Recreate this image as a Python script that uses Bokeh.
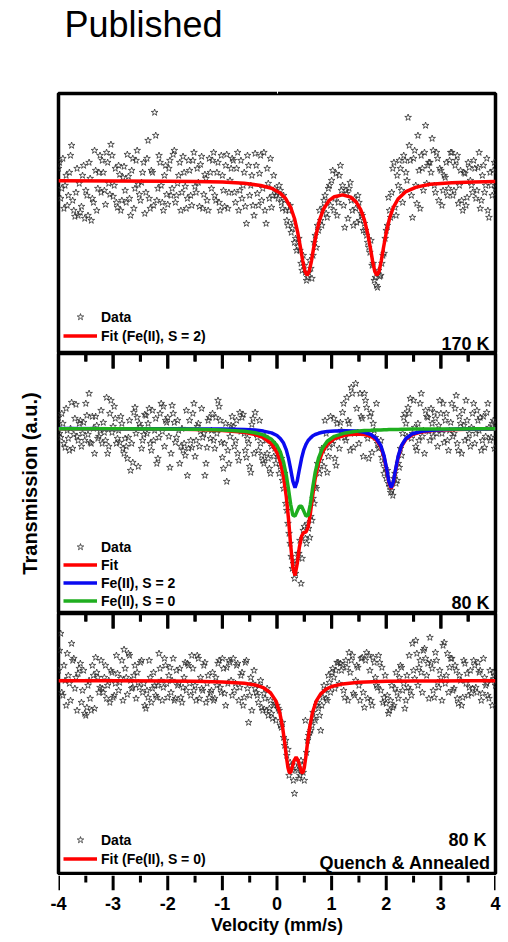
import numpy as np
from bokeh.plotting import figure
from bokeh.models import Range1d, LinearAxis, FixedTicker, Legend, LegendItem, Label
from bokeh.layouts import column
from bokeh.embed import file_html
from bokeh.resources import INLINE

FONT = "Liberation Sans"

# ---------------- data ----------------
# velocity channels (even and odd halves of the folded spectrum)
VELOCITY = np.round(np.linspace(-4.0, 4.0, 201), 2)
VELOCITY_B = np.round(np.linspace(-3.98, 3.98, 200), 2)

MAJOR_TICKS = [-4, -3, -2, -1, 0, 1, 2, 3, 4]
MINOR_TICKS = [-3.5, -2.5, -1.5, -0.5, 0.5, 1.5, 2.5, 3.5]
TICK_LABELS = ["-4", "-3", "-2", "-1", "0", "1", "2", "3", "4"]

DATA_170K = [
    100.60, 99.10, 101.10, 99.75, 98.75, 100.40, 101.75, 98.50, 99.40, 98.25,
    98.40, 100.25, 98.10, 99.25, 100.90, 98.00, 98.90, 100.50, 99.60, 101.25,
    101.00, 99.50, 101.40, 99.85, 101.80, 99.20, 100.60, 98.65, 100.30, 99.00,
    100.70, 98.90, 100.20, 98.25, 101.10, 99.60, 101.50, 99.30, 99.90, 100.90,
    99.40, 102.00, 98.60, 100.40, 103.40, 99.00, 101.25, 99.75, 98.50, 100.75,
    98.80, 101.00, 99.60, 101.50, 99.25, 100.25, 98.50, 101.20, 99.70, 99.10,
    100.50, 98.75, 101.40, 99.40, 99.90, 100.80, 98.60, 100.30, 99.00, 101.10,
    99.60, 101.40, 99.00, 100.90, 98.50, 100.25, 98.70, 101.30, 99.40, 100.60,
    101.00, 98.90, 101.40, 99.50, 99.10, 100.40, 97.85, 100.75, 99.75, 98.75,
    101.35, 99.35, 100.35, 99.00, 101.40, 97.85, 99.85, 101.10, 99.25, 99.60,
    99.40, 99.75, 98.90, 99.25, 98.50, 97.75, 98.75, 97.60, 96.90, 96.50,
    97.10, 95.85, 96.25, 95.40, 95.15, 96.00, 95.10, 96.90, 96.65, 97.50,
    98.00, 98.65, 99.25, 98.15, 99.75, 100.00, 98.50, 100.35, 98.90, 100.75,
    99.75, 97.65, 99.35, 99.60, 99.00, 97.75, 98.60, 99.25, 98.00, 98.25,
    97.85, 97.25, 96.65, 97.00, 95.85, 95.15, 94.65, 95.20, 95.85, 96.35,
    97.50, 99.15, 98.15, 100.60, 98.65, 100.25, 101.00, 99.50, 101.25, 100.40,
    103.15, 101.00, 98.15, 101.50, 98.85, 100.50, 101.25, 99.50, 102.75, 100.75,
    100.90, 102.10, 99.75, 101.40, 99.00, 100.50, 99.50, 100.15, 99.25, 101.00,
    101.40, 99.50, 101.00, 98.85, 100.50, 98.50, 100.35, 99.15, 100.65, 99.75,
    101.00, 99.10, 100.65, 98.60, 100.25, 99.40, 101.10, 98.15, 99.75, 100.50,
    99.60,
]
DATA_170K_B = [
    100.90, 99.60, 98.60, 100.25, 99.25, 101.25, 99.00, 98.20, 100.60, 99.85,
    98.70, 100.75, 99.50, 98.25, 100.10, 99.10, 101.50, 98.50, 100.40, 99.40,
    100.40, 98.80, 100.90, 99.30, 101.25, 99.75, 98.90, 100.75, 98.50, 100.15,
    99.50, 101.30, 99.10, 100.50, 98.60, 101.00, 99.80, 99.00, 100.40, 98.35,
    101.10, 99.10, 100.50, 98.75, 102.25, 99.60, 100.90, 98.90, 100.25, 99.30,
    100.60, 99.25, 101.30, 98.90, 99.85, 100.90, 99.40, 100.40, 98.60, 101.00,
    99.25, 101.00, 99.70, 100.60, 98.70, 101.20, 99.30, 100.10, 98.50, 100.40,
    101.00, 99.25, 100.40, 98.90, 101.25, 99.50, 100.75, 98.60, 100.00, 101.10,
    99.40, 100.60, 98.50, 101.00, 99.75, 98.70, 101.25, 99.25, 100.25, 98.25,
    100.75, 98.75, 101.25, 99.60, 98.50, 100.60, 99.10, 98.65, 100.25, 99.25,
    99.10, 99.50, 98.60, 99.00, 98.00, 98.50, 97.40, 97.90, 97.10, 96.70,
    96.50, 95.50, 95.75, 95.00, 95.40, 95.60, 96.25, 97.25, 97.75, 98.50,
    97.75, 99.00, 98.35, 99.60, 98.75, 100.50, 99.10, 98.25, 100.25, 99.50,
    98.75, 99.50, 98.10, 99.90, 98.50, 99.10, 97.90, 98.90, 98.35, 97.50,
    97.50, 96.90, 96.40, 95.75, 95.00, 94.75, 95.50, 95.25, 96.25, 97.10,
    97.75, 98.50, 99.40, 100.90, 98.25, 99.75, 100.60, 98.90, 101.00, 100.00,
    101.75, 99.25, 101.10, 99.75, 102.25, 98.60, 100.60, 101.40, 99.85, 100.90,
    100.40, 101.50, 99.40, 101.10, 100.60, 98.75, 100.25, 100.90, 99.60, 101.40,
    99.25, 100.75, 101.25, 99.75, 99.00, 100.40, 98.75, 100.90, 100.00, 99.40,
    100.60, 99.50, 101.40, 99.00, 100.75, 99.75, 98.50, 100.40, 99.25, 100.90,
]

FIT_170K_X = [-4, -3, -2, -1.5, -1, -0.6, -0.3, -0.1, 0.05, 0.15, 0.25, 0.32, 0.38,
              0.43, 0.47, 0.51, 0.55, 0.59, 0.63, 0.67, 0.72, 0.78, 0.85, 0.95, 1.05,
              1.2, 1.35, 1.45, 1.53, 1.6, 1.66, 1.71, 1.75, 1.79, 1.83, 1.87, 1.91,
              1.95, 2.0, 2.06, 2.13, 2.22, 2.35, 2.55, 2.8, 3.2, 3.6, 4.0]
FIT_170K = [99.99, 99.98, 99.96, 99.95, 99.92, 99.86, 99.75, 99.61, 99.39, 99.13,
            98.66, 98.10, 97.39, 96.65, 96.00, 95.47, 95.26, 95.46, 95.97, 96.62,
            97.34, 98.03, 98.56, 98.99, 99.19, 99.28, 99.17, 98.92, 98.56, 98.03,
            97.34, 96.62, 95.97, 95.46, 95.26, 95.47, 96.00, 96.65, 97.39, 98.10,
            98.66, 99.09, 99.43, 99.67, 99.81, 99.89, 99.93, 99.95]

DATA_80K = [
    100.55, 99.55, 100.25, 99.05, 99.90, 98.90, 101.30, 99.70, 101.20, 99.40,
    100.40, 99.75, 99.40, 100.65, 101.75, 99.25, 100.00, 100.60, 99.50, 99.90,
    99.25, 99.80, 101.55, 99.10, 101.40, 100.10, 100.50, 99.50, 99.30, 100.25,
    98.75, 99.10, 99.55, 97.90, 98.30, 101.05, 100.55, 100.25, 99.00, 99.70,
    100.65, 100.25, 99.25, 100.90, 99.90, 98.25, 99.55, 101.25, 101.10, 100.40,
    100.55, 98.05, 101.15, 100.30, 99.55, 99.90, 99.10, 98.90, 98.65, 97.65,
    100.40, 99.05, 101.25, 99.40, 100.25, 99.85, 99.55, 97.65, 99.05, 100.55,
    99.90, 99.40, 100.55, 101.40, 100.40, 98.55, 99.25, 97.35, 98.25, 100.15,
    100.10, 99.40, 98.75, 100.80, 100.55, 99.75, 98.55, 99.25, 97.80, 100.50,
    100.80, 99.55, 100.40, 98.65, 98.25, 99.40, 98.50, 97.75, 99.30, 99.00,
    98.90, 97.75, 98.50, 97.00, 96.25, 95.25, 94.25, 93.00, 92.50, 93.40,
    93.75, 92.25, 94.90, 94.50, 95.25, 94.55, 95.40, 96.25, 97.00, 98.00,
    98.40, 98.90, 100.40, 97.80, 99.05, 99.40, 100.50, 98.15, 99.55, 100.30,
    100.80, 99.55, 101.55, 100.25, 102.05, 99.05, 102.25, 99.80, 101.75, 100.50,
    101.75, 101.05, 98.50, 100.80, 100.25, 99.55, 99.25, 99.05, 98.55, 97.75,
    97.50, 97.25, 96.80, 96.65, 97.75, 97.40, 98.05, 98.65, 100.55, 100.25,
    101.05, 101.50, 99.75, 100.05, 98.90, 99.40, 101.75, 99.90, 100.90, 100.55,
    99.40, 100.25, 100.80, 99.75, 100.15, 100.75, 101.25, 100.40, 99.40, 99.90,
    101.25, 99.75, 101.65, 98.90, 100.25, 100.90, 99.40, 100.40, 99.75, 100.05,
    101.25, 99.75, 100.40, 100.55, 99.40, 99.05, 100.80, 100.05, 99.55, 100.40,
    100.20,
]
DATA_80K_B = [
    99.75, 100.75, 99.25, 101.00, 99.50, 100.00, 99.00, 100.50, 99.60, 100.25,
    99.10, 100.30, 101.25, 99.70, 99.30, 100.60, 98.75, 100.15, 99.60, 100.90,
    100.30, 99.40, 98.75, 100.75, 99.80, 101.10, 99.25, 99.90, 100.60, 99.00,
    99.50, 98.50, 100.40, 99.25, 100.80, 99.75, 98.10, 100.10, 99.40, 100.70,
    99.75, 101.00, 98.90, 99.40, 100.50, 98.50, 100.75, 99.85, 99.10, 100.30,
    99.60, 98.75, 100.75, 99.30, 100.40, 98.25, 100.00, 99.25, 100.90, 99.00,
    99.40, 100.75, 98.60, 100.10, 99.10, 101.00, 99.75, 98.25, 100.40, 99.50,
    100.75, 99.00, 99.75, 101.10, 99.30, 98.00, 100.25, 98.90, 99.60, 100.60,
    99.10, 100.40, 98.40, 99.85, 100.70, 98.90, 99.50, 98.10, 100.20, 98.75,
    99.80, 98.90, 99.25, 98.40, 99.60, 98.75, 98.00, 99.10, 98.60, 98.25,
    98.60, 98.10, 97.40, 97.75, 95.90, 94.75, 93.60, 93.25, 92.75, 93.75,
    94.40, 93.50, 95.10, 94.25, 95.00, 95.60, 96.50, 97.10, 98.25, 97.75,
    99.00, 98.10, 99.75, 98.60, 100.60, 99.25, 98.50, 100.25, 99.00, 99.90,
    101.25, 99.40, 100.40, 98.90, 101.75, 99.75, 101.00, 99.25, 100.60, 98.60,
    101.40, 99.50, 100.60, 98.80, 99.90, 101.25, 99.00, 99.40, 98.25, 98.00,
    97.90, 97.10, 96.90, 97.50, 97.25, 98.25, 99.00, 99.75, 100.75, 99.60,
    100.75, 99.50, 101.40, 99.10, 100.25, 101.25, 99.60, 98.75, 100.60, 99.85,
    101.00, 99.60, 100.50, 99.10, 101.40, 99.75, 99.30, 100.75, 98.90, 100.30,
    99.60, 101.00, 99.25, 100.60, 98.75, 100.15, 101.40, 99.50, 99.10, 100.75,
    99.25, 100.90, 99.90, 98.90, 100.60, 99.60, 101.25, 99.40, 100.25, 99.00,
]

FIT_80K_X = [-4, -3, -2, -1.5, -1, -0.6, -0.4, -0.25, -0.1, 0.0, 0.06, 0.12, 0.17,
             0.21, 0.25, 0.29, 0.33, 0.37, 0.41, 0.45, 0.49, 0.53, 0.57, 0.61, 0.65,
             0.70, 0.76, 0.83, 0.92, 1.05, 1.25, 1.45, 1.6, 1.72, 1.82, 1.9, 1.96,
             2.01, 2.05, 2.09, 2.13, 2.17, 2.22, 2.28, 2.36, 2.48, 2.65, 2.9, 3.3,
             3.7, 4.0]
FIT_80K_TOTAL = [99.99, 99.98, 99.97, 99.95, 99.90, 99.81, 99.70, 99.55, 99.23, 98.80,
                 98.33, 97.58, 96.60, 95.49, 94.18, 93.04, 92.65, 93.24, 94.07, 94.62,
                 94.80, 94.82, 95.07, 95.73, 96.59, 97.51, 98.28, 98.82, 99.21, 99.49,
                 99.67, 99.73, 99.70, 99.61, 99.42, 99.08, 98.57, 97.89, 97.28, 96.99,
                 97.28, 97.90, 98.59, 99.11, 99.46, 99.70, 99.83, 99.91, 99.95, 99.97,
                 99.97]
FIT_80K_S2 = [100.00, 99.99, 99.99, 99.98, 99.97, 99.95, 99.92, 99.87, 99.78, 99.65,
              99.50, 99.27, 98.93, 98.52, 97.97, 97.37, 97.04, 97.37, 97.96, 98.51,
              98.93, 99.21, 99.40, 99.52, 99.62, 99.70, 99.76, 99.81, 99.85, 99.88,
              99.89, 99.87, 99.81, 99.70, 99.49, 99.15, 98.63, 97.95, 97.33, 97.04,
              97.33, 97.95, 98.63, 99.15, 99.50, 99.74, 99.86, 99.93, 99.97, 99.98,
              99.99]
FIT_80K_S0 = [99.99, 99.99, 99.98, 99.96, 99.93, 99.86, 99.79, 99.68, 99.46, 99.15,
              98.83, 98.32, 97.67, 96.98, 96.21, 95.67, 95.62, 95.87, 96.11, 96.11,
              95.87, 95.62, 95.67, 96.21, 96.98, 97.82, 98.52, 99.01, 99.36, 99.61,
              99.78, 99.86, 99.90, 99.91, 99.93, 99.93, 99.94, 99.94, 99.95, 99.95,
              99.95, 99.95, 99.95, 99.96, 99.96, 99.97, 99.97, 99.98, 99.98, 99.99,
              99.99]

DATA_QA = [
    100.50, 102.35, 99.25, 100.00, 101.35, 99.85, 101.85, 101.10, 100.15, 100.35,
    100.85, 99.50, 98.35, 98.65, 100.00, 98.50, 100.25, 101.15, 100.15, 99.65,
    99.60, 100.15, 99.10, 100.00, 100.50, 99.15, 99.85, 100.35, 99.90, 101.00,
    101.55, 100.15, 101.35, 100.00, 99.65, 100.75, 100.40, 99.65, 101.00, 99.85,
    98.60, 99.15, 100.15, 99.60, 99.75, 99.15, 101.35, 100.00, 99.65, 100.75,
    99.15, 100.65, 100.00, 99.00, 100.50, 99.85, 99.15, 99.65, 100.90, 100.85,
    99.85, 101.25, 99.50, 99.00, 101.10, 100.15, 99.50, 100.90, 99.85, 99.15,
    99.50, 99.00, 100.15, 100.85, 99.65, 101.10, 99.35, 100.65, 101.00, 100.00,
    101.10, 99.85, 100.85, 99.65, 100.40, 99.15, 101.00, 97.90, 100.15, 99.85,
    99.60, 99.25, 99.75, 98.65, 99.35, 98.50, 98.25, 99.00, 98.10, 98.85,
    98.75, 98.50, 97.65, 97.15, 97.00, 96.55, 95.90, 95.50, 94.35, 95.60,
    95.10, 96.00, 95.40, 98.00, 97.00, 97.40, 97.75, 98.10, 98.75, 98.60,
    97.50, 99.15, 99.50, 99.00, 99.90, 100.40, 100.15, 100.50, 100.90, 100.85,
    100.75, 99.15, 100.65, 101.40, 101.00, 99.35, 100.00, 100.65, 99.00, 101.15,
    98.65, 101.40, 101.25, 99.00, 101.15, 100.15, 99.65, 100.90, 100.65, 99.15,
    98.85, 98.35, 99.00, 98.65, 99.60, 99.40, 100.15, 100.65, 99.85, 99.00,
    99.65, 99.50, 101.85, 100.10, 101.35, 100.65, 100.40, 101.50, 101.10, 100.85,
    102.15, 100.60, 99.15, 101.00, 99.65, 100.15, 101.75, 99.85, 101.35, 100.65,
    101.10, 99.60, 100.50, 98.85, 100.00, 99.15, 100.85, 100.35, 99.65, 99.35,
    101.00, 99.65, 100.90, 100.50, 99.35, 100.15, 99.85, 99.10, 100.00, 100.40,
    99.75,
]
DATA_QA_B = [
    101.50, 99.40, 100.75, 98.75, 100.25, 99.00, 101.00, 99.60, 98.50, 100.60,
    98.90, 100.50, 98.25, 99.75, 99.10, 100.75, 98.60, 100.40, 99.40, 101.00,
    99.40, 100.75, 99.75, 98.90, 100.40, 99.25, 101.25, 99.50, 100.10, 99.00,
    100.60, 99.30, 101.25, 99.60, 100.25, 99.10, 99.90, 100.90, 99.40, 98.75,
    99.50, 101.00, 98.90, 100.40, 99.25, 99.75, 100.60, 99.00, 101.10, 99.85,
    100.25, 99.40, 101.10, 99.10, 99.75, 100.60, 98.90, 100.15, 99.50, 100.75,
    99.25, 100.60, 99.75, 101.25, 99.10, 99.60, 100.75, 98.90, 100.25, 99.40,
    100.40, 99.10, 99.75, 101.00, 99.40, 100.60, 98.75, 99.85, 100.90, 99.25,
    99.50, 100.75, 99.00, 100.25, 98.75, 100.90, 99.60, 99.25, 98.50, 100.50,
    99.40, 98.90, 100.00, 98.50, 99.10, 99.60, 98.60, 98.35, 98.75, 98.00,
    98.60, 97.75, 97.90, 96.75, 96.25, 95.25, 95.75, 95.00, 95.90, 95.50,
    95.25, 95.75, 95.00, 96.40, 97.25, 97.50, 98.40, 98.00, 98.90, 98.25,
    98.75, 99.75, 99.10, 100.25, 99.40, 100.60, 99.60, 100.90, 99.85, 100.50,
    99.50, 101.00, 99.00, 100.40, 101.25, 99.25, 100.75, 99.75, 101.10, 99.40,
    101.00, 99.10, 100.50, 98.75, 100.90, 99.75, 101.25, 99.50, 98.90, 100.25,
    99.25, 98.50, 99.75, 98.75, 100.40, 99.10, 100.75, 99.50, 98.60, 100.25,
    101.25, 99.25, 100.50, 102.00, 99.75, 101.00, 99.40, 101.60, 100.25, 99.10,
    100.90, 99.50, 101.40, 99.90, 100.50, 99.00, 101.90, 100.25, 99.40, 101.10,
    99.50, 100.75, 99.10, 100.25, 98.75, 101.00, 99.85, 99.25, 100.50, 99.60,
    100.75, 99.40, 100.40, 99.00, 101.10, 99.75, 99.25, 100.50, 98.75, 100.25,
]

FIT_QA_X = [-4, -3, -2, -1.5, -1, -0.6, -0.4, -0.25, -0.12, -0.02, 0.05, 0.1, 0.14,
            0.17, 0.2, 0.225, 0.25, 0.28, 0.31, 0.35, 0.39, 0.42, 0.45, 0.475, 0.5,
            0.53, 0.56, 0.6, 0.65, 0.72, 0.8, 0.9, 1.0, 1.2, 1.5, 2.0, 2.5, 3.0,
            3.5, 4.0]
FIT_QA = [99.99, 99.99, 99.98, 99.96, 99.93, 99.86, 99.78, 99.64, 99.39, 98.98,
          98.40, 97.70, 96.91, 96.23, 95.65, 95.40, 95.40, 95.67, 95.98, 96.17,
          95.98, 95.67, 95.40, 95.40, 95.65, 96.23, 96.91, 97.70, 98.40, 98.98,
          99.33, 99.57, 99.70, 99.83, 99.91, 99.96, 99.97, 99.98, 99.99, 99.99]

# ---------------- styling helpers ----------------
W = 508
LB, RB = 58, 13
FRAME_H = 260
PX_PER_UNIT = 20.0          # vertical scale of every panel (pixels per % transmission)
MAJOR_LEN, MINOR_LEN = 15, 8
RED, BLUE, GREEN = "#ff0000", "#0a0af0", "#1fae1f"
STAR_COLOR = "#2e2e2e"


def base_fig(height, yr, top=0, bottom=0):
    p = figure(width=W, height=height, x_range=Range1d(-4, 4), y_range=Range1d(*yr),
               output_backend="svg", toolbar_location=None,
               x_axis_location=None, y_axis_location=None,
               min_border=0, min_border_left=LB, min_border_right=RB,
               min_border_top=top, min_border_bottom=bottom)
    p.grid.visible = False
    p.background_fill_color = None
    p.border_fill_color = None
    p.outline_line_color = "black"
    p.outline_line_width = 3.5
    return p


def inner_top_ticks(p):
    """Tick marks hanging down from the top edge of a panel (as in the original)."""
    top = p.y_range.end
    p.segment(x0=MAJOR_TICKS, y0=[top] * len(MAJOR_TICKS), x1=MAJOR_TICKS,
              y1=[top - MAJOR_LEN / PX_PER_UNIT] * len(MAJOR_TICKS),
              line_color="black", line_width=3)
    p.segment(x0=MINOR_TICKS, y0=[top] * len(MINOR_TICKS), x1=MINOR_TICKS,
              y1=[top - MINOR_LEN / PX_PER_UNIT] * len(MINOR_TICKS),
              line_color="black", line_width=3)
    # same marks drawn as vertical dash markers
    p.scatter(x=MAJOR_TICKS, y=[top - MAJOR_LEN / PX_PER_UNIT / 2] * len(MAJOR_TICKS),
              marker="dash", size=MAJOR_LEN, angle=np.pi / 2,
              line_color="black", line_width=3)
    p.scatter(x=MINOR_TICKS, y=[top - MINOR_LEN / PX_PER_UNIT / 2] * len(MINOR_TICKS),
              marker="dash", size=MINOR_LEN, angle=np.pi / 2,
              line_color="black", line_width=3)


def stars(p, y, y_b):
    return p.scatter(np.concatenate([VELOCITY, VELOCITY_B]), list(y) + list(y_b),
                     marker="star", size=7, fill_color=None,
                     line_color=STAR_COLOR, line_width=0.8)


def add_legend(p, items, loc, spacing):
    lg = Legend(items=items, location=loc, border_line_color=None,
                background_fill_alpha=0, padding=0, margin=0, spacing=spacing,
                glyph_width=34, glyph_height=17, label_height=17, label_standoff=4,
                label_text_font=FONT, label_text_font_style="bold",
                label_text_font_size="14px", label_text_color="black")
    p.add_layout(lg)


def add_text(p, x, y, txt):
    p.add_layout(Label(x=x, y=y, text=txt, text_align="right", text_baseline="alphabetic",
                       text_font=FONT, text_font_style="bold", text_font_size="18px",
                       text_color="black"))


# ---------------- top panel: 170 K ----------------
p1 = base_fig(93 + FRAME_H, (91.35, 104.35), top=93)
p1.title.text = "Published"
p1.title.text_font = FONT
p1.title.text_font_style = "normal"
p1.title.text_font_size = "36px"
p1.title.text_color = "black"
p1.title.align = "left"
p1.title.offset = 6
p1.title.standoff = 2
# empty spacer between the title and the frame
spacer = LinearAxis(ticker=FixedTicker(ticks=[0]), major_tick_out=48, minor_tick_out=0,
                    major_tick_in=0, minor_tick_in=0, axis_line_color=None,
                    major_tick_line_color="white", minor_tick_line_color=None,
                    major_label_standoff=0, major_label_text_font_size="0px",
                    major_label_text_color=None)
p1.add_layout(spacer, "above")
s1 = stars(p1, DATA_170K, DATA_170K_B)
f1 = p1.line(FIT_170K_X, FIT_170K, line_color=RED, line_width=3.5)
add_legend(p1, [LegendItem(label="Data", renderers=[s1]),
                LegendItem(label="Fit (Fe(II), S = 2)", renderers=[f1])], (5, 9), 2)
add_text(p1, 3.89, 91.85, "170 K")

# ---------------- middle panel: 80 K ----------------
p2 = base_fig(FRAME_H, (90.75, 103.75))
yax = LinearAxis(ticker=FixedTicker(ticks=[]), axis_label="Transmission (a.u.)",
                 axis_line_color=None, major_tick_line_color=None, minor_tick_line_color=None,
                 major_tick_out=0, minor_tick_out=0, major_label_text_font_size="0px",
                 major_label_standoff=0, axis_label_standoff=18,
                 axis_label_text_font=FONT, axis_label_text_font_style="bold",
                 axis_label_text_font_size="20px", axis_label_text_color="black")
p2.add_layout(yax, "left")
s2 = stars(p2, DATA_80K, DATA_80K_B)
f2 = p2.line(FIT_80K_X, FIT_80K_TOTAL, line_color=RED, line_width=3.5)
b2 = p2.line(FIT_80K_X, FIT_80K_S2, line_color=BLUE, line_width=3.5)
g2 = p2.line(FIT_80K_X, FIT_80K_S0, line_color=GREEN, line_width=3.5)
inner_top_ticks(p2)
add_legend(p2, [LegendItem(label="Data", renderers=[s2]),
                LegendItem(label="Fit", renderers=[f2]),
                LegendItem(label="Fe(II), S = 2", renderers=[b2]),
                LegendItem(label="Fe(II), S = 0", renderers=[g2])], (5, 4), 1)
add_text(p2, 3.89, 91.30, "80 K")

# ---------------- bottom panel: 80 K quench & annealed ----------------
p3 = base_fig(FRAME_H + 2, (90.35, 103.35), bottom=2)
s3 = stars(p3, DATA_QA, DATA_QA_B)
f3 = p3.line(FIT_QA_X, FIT_QA, line_color=RED, line_width=3.5)
inner_top_ticks(p3)
add_legend(p3, [LegendItem(label="Data", renderers=[s3]),
                LegendItem(label="Fit (Fe(II), S = 0)", renderers=[f3])], (5, 6), 2)
add_text(p3, 3.835, 92.05, "80 K")
add_text(p3, 3.91, 90.90, "Quench & Annealed")

# ---------------- shared velocity axis (outward ticks + labels) ----------------
H4 = 942 - 93 - 3 * FRAME_H - 2
p4 = figure(width=W, height=H4, x_range=p3.x_range,
            y_range=Range1d(0, MAJOR_LEN), output_backend="svg", toolbar_location=None,
            x_axis_location="below", y_axis_location=None,
            min_border=0, min_border_left=LB, min_border_right=RB, min_border_top=0,
            min_border_bottom=H4 - MAJOR_LEN)
p4.grid.visible = False
p4.outline_line_color = None
p4.background_fill_color = None
p4.border_fill_color = None
p4.segment(x0=MAJOR_TICKS, y0=[MAJOR_LEN] * len(MAJOR_TICKS), x1=MAJOR_TICKS,
           y1=[0] * len(MAJOR_TICKS), line_color="black", line_width=3)
p4.segment(x0=MINOR_TICKS, y0=[MAJOR_LEN] * len(MINOR_TICKS), x1=MINOR_TICKS,
           y1=[MAJOR_LEN - MINOR_LEN + 1] * len(MINOR_TICKS), line_color="black", line_width=3)
ax = p4.xaxis[0]
ax.ticker = FixedTicker(ticks=MAJOR_TICKS)
ax.major_tick_in = 0
ax.major_tick_out = 0
ax.minor_tick_in = 0
ax.minor_tick_out = 0
ax.axis_line_color = None
ax.major_tick_line_color = None
ax.minor_tick_line_color = None
ax.major_label_text_font = FONT
ax.major_label_text_font_style = "bold"
ax.major_label_text_font_size = "18px"
ax.major_label_text_color = "black"
ax.major_label_standoff = 6
ax.major_label_overrides = {t: s for t, s in zip(MAJOR_TICKS, TICK_LABELS)}
ax.axis_label = "Velocity (mm/s)"
ax.axis_label_standoff = 2
ax.axis_label_text_font = FONT
ax.axis_label_text_font_style = "bold"
ax.axis_label_text_font_size = "18px"
ax.axis_label_text_color = "black"

layout = column(p1, p2, p3, p4, spacing=0)
open("out.html", "w").write(file_html(layout, INLINE))
